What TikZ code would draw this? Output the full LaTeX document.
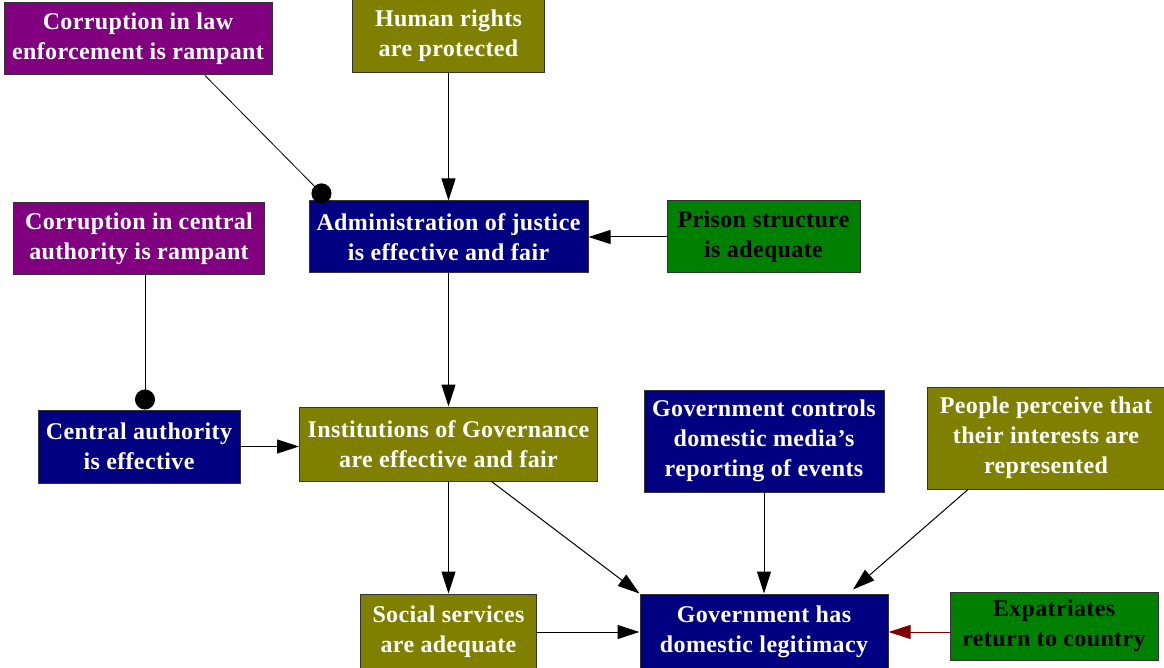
\documentclass[tikz,border=0pt]{standalone}
\usepackage{fontspec}
\setmainfont{Liberation Serif}[LetterSpace=1.5]
\usepackage{xcolor}
\usetikzlibrary{arrows.meta, positioning, calc}
\definecolor{causepurple}{HTML}{800080}
\definecolor{goalnavy}{HTML}{000080}
\definecolor{factorolive}{HTML}{808000}
\definecolor{factorgreen}{HTML}{008000}
\definecolor{linkred}{HTML}{800000}

\begin{document}
\begin{tikzpicture}[
	x=1pt, y=-1pt,
	block/.style={draw=black!80, line width=1pt, rectangle, minimum height=72pt, align=center, inner sep=2pt,
		text=white, font=\bfseries\fontsize{24}{30}\selectfont},
	purplebox/.style={block, fill=causepurple},
	navybox/.style={block, fill=goalnavy},
	olivebox/.style={block, fill=factorolive},
	greenbox/.style={block, fill=factorgreen, text=black},
	arrow/.style={-{Triangle[length=22pt, width=14pt]}, line width=1pt},
	inhibit/.style={-{Circle[length=20pt]}, line width=0.8pt}
	]
	\useasboundingbox (0,0) rectangle (1164,668);
	
	% --- Top: justice and its causes ---
	\node[purplebox, minimum width=268pt] (corr_law) at (138,39) {Corruption in law\\enforcement is rampant};
	\node[olivebox, minimum width=192pt, minimum height=74pt] (human_rights) at (448.5,36) {Human rights\\are protected};
	\node[purplebox, minimum width=251pt] (corr_central) at (139,239) {Corruption in central\\authority is rampant};
	\node[navybox, minimum width=279pt] (admin) at (448.5,237) {Administration of justice\\is effective and fair};
	\node[greenbox, minimum width=193pt] (prison) at (763.5,237) {Prison structure\\is adequate};
	
	% Arrows for top part
	\draw[inhibit] ([xshift=67pt]corr_law.south) -- ([xshift=-120pt]admin.north);
	\draw[arrow] (human_rights) -- (admin);
	\draw[arrow] (prison) -- (admin);
	
	
	% --- Middle: governance ---
	\node[navybox, minimum width=202pt, minimum height=73pt] (central) at (139,446.5) {Central authority\\is effective};
	\node[olivebox, minimum width=298pt, minimum height=74pt] (institutions) at (448.5,444) {Institutions of Governance\\are effective and fair};
	\node[navybox, minimum width=240pt, minimum height=102pt] (media) at (764,441) {Government controls\\domestic media’s\\reporting of events};
	\node[olivebox, minimum width=238pt, minimum height=102pt] (people) at (1046,438) {People perceive that\\their interests are\\represented};
	
	% Arrows for middle part
	\draw[inhibit] ([xshift=6pt]corr_central.south) -- ([xshift=6pt]central.north);
	\draw[arrow] (admin) -- (institutions);
	\draw[arrow] (central.east) -- (central.east -| institutions.west);
	
	
	% --- Bottom: legitimacy ---
	\node[olivebox, minimum width=176pt, minimum height=76pt] (social) at (448.5,632) {Social services\\are adequate};
	\node[navybox, minimum width=248pt, minimum height=76pt] (legit) at (764,632) {Government has\\domestic legitimacy};
	\node[greenbox, minimum width=208pt, minimum height=68pt] (expat) at (1054,626) {Expatriates\\return to country};
	
	% Arrows for bottom part
	\draw[arrow] (institutions) -- (social);
	\draw[arrow] ([xshift=43pt]institutions.south) -- (legit.north west);
	\draw[arrow] (media) -- (legit);
	\draw[arrow] ([xshift=-78pt]people.south) -- ([xshift=89pt, yshift=4pt]legit.north);
	\draw[arrow] (social) -- (legit);
	\draw[arrow, color=linkred] (expat.west |- legit.east) -- (legit.east);
	
\end{tikzpicture}
\end{document}
